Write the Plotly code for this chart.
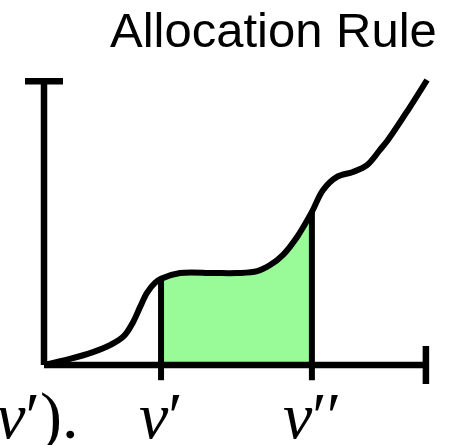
import plotly.graph_objects as go

# Curve samples (data units)
curve_x = [0.0, 0.68, 1.29, 1.75, 2.1, 2.34, 2.53, 2.71, 2.92, 3.08, 3.58, 4.45, 5.08, 5.61, 5.95, 6.29, 6.66, 7.05, 7.34, 7.71, 8.13, 8.5, 8.84, 9.05, 9.58, 10.08]
curve_y = [0.0, 0.16, 0.34, 0.53, 0.76, 1.12, 1.53, 1.9, 2.16, 2.27, 2.42, 2.42, 2.42, 2.47, 2.63, 2.9, 3.37, 4.03, 4.6, 4.95, 5.08, 5.26, 5.66, 5.92, 6.71, 7.5]
v1 = 3.08
v2 = 7.05
x_axis_end = 10.05
y_axis_end = 7.47
cap_half = 0.5
tick_bottom = -0.4
title_text = "Allocation Rule"
label_v1 = "<i>v</i>′"
label_v2 = "<i>v</i>′′"
label_left = "<i>x</i>(<i>v</i>′)."

fig = go.Figure()

fill_x = [x for x in curve_x if v1 <= x <= v2]
fill_y = [y for x, y in zip(curve_x, curve_y) if v1 <= x <= v2]
fig.add_trace(go.Scatter(x=fill_x, y=fill_y, mode="lines", line=dict(width=0, shape="spline", smoothing=1.0),
                         fill="tozeroy", fillcolor="#98FB98", hoverinfo="skip"))

line_style = dict(color="black", width=6.5)
# axes
fig.add_trace(go.Scatter(x=[0, 0], y=[0, y_axis_end], mode="lines", line=line_style))
fig.add_trace(go.Scatter(x=[-cap_half, cap_half], y=[y_axis_end, y_axis_end], mode="lines", line=line_style))
fig.add_trace(go.Scatter(x=[0, x_axis_end], y=[0, 0], mode="lines", line=line_style))
fig.add_trace(go.Scatter(x=[x_axis_end, x_axis_end], y=[-cap_half, cap_half], mode="lines", line=line_style))
# vertical markers at v', v''
fy1 = curve_y[curve_x.index(v1)]
fy2 = curve_y[curve_x.index(v2)]
fig.add_trace(go.Scatter(x=[v1, v1], y=[tick_bottom, fy1], mode="lines", line=dict(color="black", width=6)))
fig.add_trace(go.Scatter(x=[v2, v2], y=[tick_bottom, fy2], mode="lines", line=dict(color="black", width=6)))
# curve
fig.add_trace(go.Scatter(x=curve_x, y=curve_y, mode="lines",
                         line=dict(color="black", width=6, shape="spline", smoothing=1.0)))

s = 38.0
fig.update_layout(
    width=453, height=445, margin=dict(l=0, r=0, t=0, b=0),
    paper_bgcolor="white", plot_bgcolor="white", showlegend=False,
    xaxis=dict(range=[-44 / s, 409 / s], visible=False, fixedrange=True),
    yaxis=dict(range=[-80 / s, 365 / s], visible=False, fixedrange=True),
)
serif = "Liberation Serif, DejaVu Serif, serif"
fig.add_annotation(x=v1, y=-1.33, text=label_v1, showarrow=False, xanchor="center", yanchor="middle",
                   font=dict(family=serif, size=66, color="black"), borderpad=0)
fig.add_annotation(x=v2, y=-1.33, text=label_v2, showarrow=False, xanchor="center", yanchor="middle",
                   font=dict(family=serif, size=66, color="black"), borderpad=0)
fig.add_annotation(x=0.95, y=-1.33, text=label_left, showarrow=False, xanchor="right", yanchor="middle",
                   font=dict(family=serif, size=66, color="black"), borderpad=0)
fig.add_annotation(x=273 / 453, y=1 - 30 / 445, xref="paper", yref="paper", text=title_text, showarrow=False,
                   xanchor="center", yanchor="middle",
                   font=dict(family="Liberation Sans, Arial, sans-serif", size=49, color="black"))

fig.write_html("out.html", config={"displayModeBar": False},
               post_script="document.body.style.margin='0';document.body.style.overflow='hidden';")
